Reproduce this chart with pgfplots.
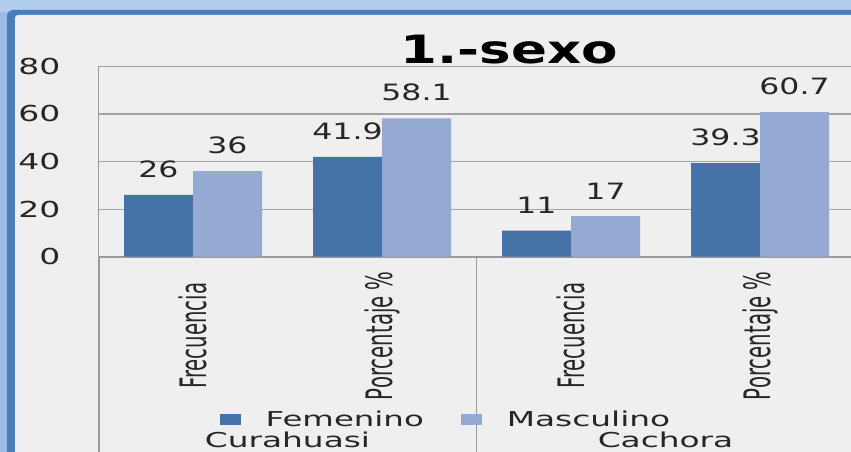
\documentclass[border=0pt]{standalone}
\usepackage{pgfplots}
\pgfplotsset{compat=1.18}
\usepackage{fontspec}
\setmainfont{DejaVu Sans}
\definecolor{femc}{HTML}{4572A7}
\definecolor{masc}{HTML}{94AAD2}
\definecolor{bgc}{HTML}{EFEFEF}
\definecolor{frameL}{HTML}{9DBCE4}
\definecolor{frameT}{HTML}{B3CDEE}
\definecolor{frameD}{HTML}{4A7EBB}
\definecolor{gridc}{HTML}{A3A3A3}
\definecolor{axc}{HTML}{9A9A9A}
\definecolor{txt}{HTML}{262626}
\begin{document}
\begin{tikzpicture}
\useasboundingbox (0pt,0pt) rectangle (851pt,-452pt);
\clip (0pt,0pt) rectangle (851pt,-452pt);
\shade[top color=frameT, bottom color=frameL] (0pt,0pt) rectangle (851pt,-452pt);
\fill[frameL] (0pt,-12pt) rectangle (851pt,-452pt);
\fill[frameD, rounded corners=6pt] (7pt,-10pt) rectangle (900pt,-500pt);
\fill[bgc, rounded corners=3pt] (15pt,-15pt) rectangle (900pt,-500pt);
\begin{axis}[
  at={(98.5pt,-256.7pt)}, anchor=south west,
  scale only axis, width=756pt, height=190.4pt,
  xmin=-0.5, xmax=3.5, ymin=0, ymax=80,
  ybar=0pt, bar width=69pt,
  xtick={0,1,2,3},
  xticklabels={{\scalebox{1}[1.85]{Frecuencia}},{\scalebox{1}[1.85]{Porcentaje \%}},{\scalebox{1}[1.85]{Frecuencia}},{\scalebox{1}[1.85]{Porcentaje \%}}},
  xticklabel style={yshift=-79pt, rotate=90, anchor=center, inner sep=0pt, font=\fontsize{19.7}{20}\selectfont, text=txt},
  ytick={0,20,40,60,80},
  yticklabel={\scalebox{1.5}[1]{\pgfmathprintnumber[assume math mode=true]{\tick}}},
  yticklabel style={anchor=east, inner sep=0pt, xshift=-38pt, font=\fontsize{22}{22}\selectfont, text=txt},
  ymajorgrids, grid style={gridc, line width=1.2pt},
  axis x line*=bottom, axis y line*=left,
  axis line style={axc, line width=1.6pt},
  major tick length=0pt,
  clip=false,
  title={\scalebox{1.36}[1]{1.-sexo}},
  title style={font=\fontsize{39}{39}\selectfont\bfseries, at={(0.5437,1)}, anchor=base, yshift=-3.5pt, inner sep=0pt, text=black},
  nodes near coords={\scalebox{1.4}[1]{\pgfmathprintnumber[assume math mode=true]{\pgfplotspointmeta}}},
  nodes near coords style={font=\fontsize{22.5}{22.5}\selectfont, anchor=south, inner sep=0pt, yshift=17pt, text=txt},
  legend columns=2,
  legend style={draw=none, fill=none, at={(0.16,-0.856)}, anchor=west, inner sep=0pt,
    font=\fontsize{20.5}{20.5}\selectfont, text=txt, nodes={inner sep=0pt},
    /tikz/every odd column/.style={column sep=25pt},
    /tikz/every even column/.style={column sep=37pt}},
  legend image code/.code={\fill[#1, draw=none] (0pt,-5.5pt) rectangle (21pt,5.5pt);},
]
\addplot[fill=femc, draw=none] coordinates {(0,26) (1,41.9) (2,11) (3,39.3)};
\addplot[fill=masc, draw=none] coordinates {(0,36) (1,58.1) (2,17) (3,60.7)};
\legend{\scalebox{1.58}[1]{Femenino},\scalebox{1.6}[1]{Masculino}}
\draw[axc, line width=2pt] (axis cs:-0.5,0) -- (axis cs:-0.5,-90);
\draw[axc, line width=1.5pt] (axis cs:1.5,0) -- (axis cs:1.5,-90);
\node[anchor=base, inner sep=0pt, font=\fontsize{20.5}{20.5}\selectfont, text=txt] at (axis cs:0.5,-80.2) {\scalebox{1.6}[1]{Curahuasi}};
\node[anchor=base, inner sep=0pt, font=\fontsize{20.5}{20.5}\selectfont, text=txt] at (axis cs:2.5,-80.2) {\scalebox{1.6}[1]{Cachora}};
\end{axis}
\end{tikzpicture}
\end{document}
